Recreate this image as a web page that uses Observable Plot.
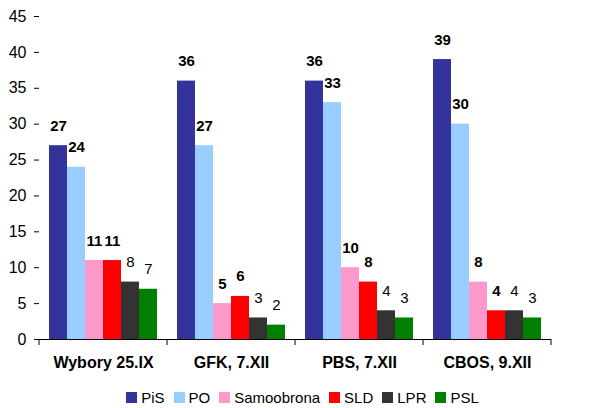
<!DOCTYPE html>
<html>
<head>
<meta charset="utf-8">
<script src="https://cdn.jsdelivr.net/npm/d3@7"></script>
<script src="https://cdn.jsdelivr.net/npm/@observablehq/plot@0.6"></script>
<style>
  html, body { margin: 0; padding: 0; background: #fff; }
  body { width: 605px; height: 408px; overflow: hidden; font-family: "Liberation Sans", Arial, sans-serif; }
  #legend { display: flex; justify-content: center; align-items: center; height: 22px; padding-left: 9px; font-size: 15px; color: #000; }
  #legend .item { display: flex; align-items: center; margin-right: 9px; }
  #legend .sw { width: 11px; height: 11px; margin-right: 4px; }
</style>
</head>
<body>
<div id="chart"></div>
<div id="legend"></div>
<script>
const polls = ["Wybory 25.IX", "GFK, 7.XII", "PBS, 7.XII", "CBOS, 9.XII"];
const parties = ["PiS", "PO", "Samoobrona", "SLD", "LPR", "PSL"];
const colors = ["#333399", "#99ccff", "#ff99cc", "#ff0000", "#333333", "#008000"];
const boldParties = ["PiS", "PO", "Samoobrona", "SLD"];
const values = {
  "Wybory 25.IX": [27, 24, 11, 11, 8, 7],
  "GFK, 7.XII":   [36, 27, 5, 6, 3, 2],
  "PBS, 7.XII":   [36, 33, 10, 8, 4, 3],
  "CBOS, 9.XII":  [39, 30, 8, 4, 4, 3]
};
const yTicks = [0, 5, 10, 15, 20, 25, 30, 35, 40, 45];

const data = [];
for (const p of polls) parties.forEach((party, i) => data.push({poll: p, party, value: values[p][i]}));

const font = "Liberation Sans, Arial, sans-serif";
const chart = Plot.plot({
  width: 605,
  height: 386,
  marginTop: 16,
  marginBottom: 47,
  marginLeft: 38,
  marginRight: 54,
  style: {fontFamily: font, fontSize: "15px", color: "#000", background: "#fff", overflow: "visible"},
  fx: {domain: polls, padding: 0},
  x: {domain: parties, paddingInner: 0, paddingOuter: 0.5, axis: null},
  y: {domain: [0, 45], line: true},
  color: {domain: parties, range: colors},
  marks: [
    Plot.axisY({ticks: yTicks, tickSize: 5, tickPadding: 8, label: null, fontSize: 16, fill: "#000"}),
    Plot.axisFx({anchor: "bottom", tickSize: 0, tickPadding: 17, label: null, fontWeight: "bold", fontSize: 16}),
    Plot.barY(data, {fx: "poll", x: "party", y: "value", fill: "party"}),
    Plot.text(data.filter(d => boldParties.includes(d.party)), {fx: "poll", x: "party", y: "value", text: d => String(d.value), lineAnchor: "bottom", dy: -15, fontWeight: "bold", fontSize: 15, fill: "#000"}),
    Plot.text(data.filter(d => !boldParties.includes(d.party)), {fx: "poll", x: "party", y: "value", text: d => String(d.value), lineAnchor: "bottom", dy: -15, fontSize: 15, fill: "#000"}),
    Plot.ruleY([0], {stroke: "#000"})
  ]
});
document.getElementById("chart").appendChild(chart);

// group boundary ticks on the x axis, placed from the fx scale
const fx = chart.scale("fx");
const y = chart.scale("y");
const edges = polls.map(p => fx.apply(p));
edges.push(fx.apply(polls[polls.length - 1]) + fx.bandwidth);
const y0 = y.apply(0);
d3.select(chart).append("g").attr("stroke", "#000")
  .selectAll("line").data(edges).join("line")
  .attr("x1", d => d).attr("x2", d => d)
  .attr("y1", y0).attr("y2", y0 + 6);

// legend
const legend = d3.select("#legend");
parties.forEach((p, i) => {
  const it = legend.append("div").attr("class", "item");
  it.append("div").attr("class", "sw").style("background", colors[i]);
  it.append("span").text(p);
});
</script>
</body>
</html>
